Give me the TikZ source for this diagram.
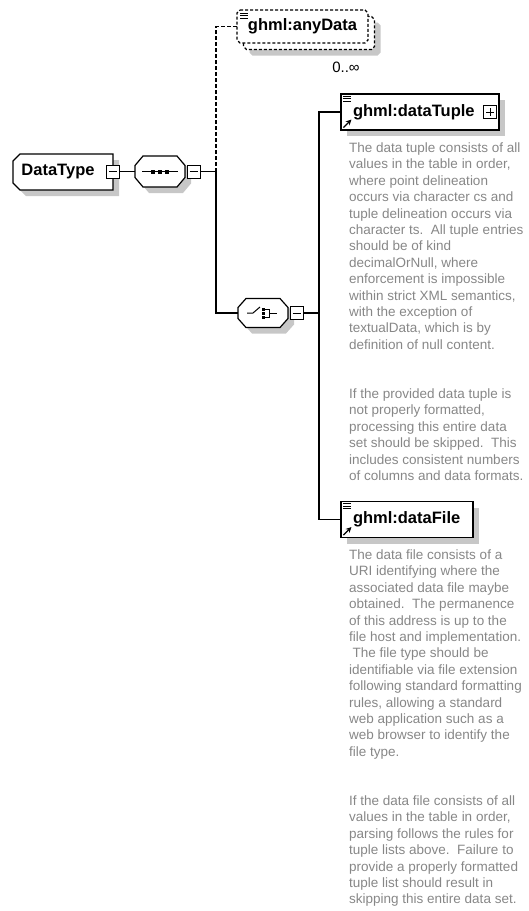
\documentclass[tikz,border=0pt]{standalone}
\usepackage{fontspec}
\setmainfont{Liberation Sans}
\usepackage{xcolor}
\usetikzlibrary{shadows,arrows.meta,backgrounds}
\definecolor{notegray}{rgb}{0.53,0.53,0.53}
\definecolor{shade}{rgb}{0.78,0.78,0.78}

\begin{document}
\begin{tikzpicture}[x=1pt,y=-1pt]
    \tikzstyle{shd}=[drop shadow={shadow xshift=6pt,shadow yshift=-6pt,fill=shade,opacity=1}]
    \tikzstyle{frame}=[rectangle,draw=none,inner sep=0pt,outer sep=0pt]
    \tikzstyle{outline}=[draw=black,fill=white,line width=1.2pt]
    \tikzstyle{label}=[font=\fontsize{16.5}{18}\selectfont\bfseries]
    \tikzstyle{elem}=[draw=black,fill=white,line width=1.2pt,minimum height=36pt,inner xsep=12pt,inner ysep=0pt,align=left,label,shd]
    \tikzstyle{mbox}=[draw=black,fill=white,line width=0.9pt,minimum size=13pt,inner sep=0pt,path picture={\draw[line width=0.9pt] ([xshift=2.5pt]path picture bounding box.west) -- ([xshift=-2.5pt]path picture bounding box.east);}]
    \tikzstyle{pbox}=[draw=black,fill=white,line width=0.9pt,minimum size=13pt,inner sep=0pt,path picture={\draw[line width=0.9pt] ([xshift=2.5pt]path picture bounding box.west) -- ([xshift=-2.5pt]path picture bounding box.east); \draw[line width=0.9pt] ([yshift=-2.5pt]path picture bounding box.north) -- ([yshift=2.5pt]path picture bounding box.south);}]
    \tikzstyle{fwd}=[draw=black,line width=1.1pt]
    \tikzstyle{note}=[text=notegray,anchor=north west,inner sep=0pt,align=left,font=\fontsize{13.5}{16.4}\selectfont]

    \def\bx{216}
    \def\cx{319}
    \def\octo#1#2#3#4{\draw[outline,#4] ([xshift=#2]#1.north west) -- ([xshift=-#2]#1.north east) -- ([yshift=-#3]#1.north east) -- ([yshift=#3]#1.south east) -- ([xshift=-#2]#1.south east) -- ([xshift=#2]#1.south west) -- ([yshift=#3]#1.south west) -- ([yshift=-#3]#1.north west) -- cycle;}
    \def\lines#1{\foreach \k in {3pt,5.5pt,8pt} \draw[line width=0.9pt] ([xshift=3pt,yshift=-\k]#1.north west) -- ++(7.5pt,0pt);}
    \def\refarr#1{\draw[line width=1.3pt,-{Stealth[length=5.5pt,width=5.5pt]}] ([xshift=3pt,yshift=3pt]#1.south west) -- ++(8pt,8pt);}

    \useasboundingbox (0,0) rectangle (528,911);

    \node[frame,label,minimum width=100pt,minimum height=36pt] (dt) at (63,172) {DataType\hspace*{10pt}};
    \begin{scope}[on background layer]
    \draw[outline,shd] ([xshift=7pt]dt.north west) -- (dt.north east) -- (dt.south east) -- ([xshift=7pt]dt.south west) -- ([yshift=7pt]dt.south west) -- ([yshift=-7pt]dt.north west) -- cycle;
    \end{scope}
    \node[mbox]  (dtm) at (113,171.5) {};

    \node[frame,minimum width=50pt,minimum height=31pt] (seq) at (160,171.5) {};
    \begin{scope}[on background layer]
    \octo{seq}{8pt}{9.5pt}{shd}
    \end{scope}
    \node[mbox]  (seqm) at (193.5,171.5) {};
    \draw[line width=1pt] ([xshift=-18pt]seq.center) -- ([xshift=18pt]seq.center);
    \foreach \k in {-9pt,-2pt,5pt} \fill ([xshift=\k,yshift=-2pt]seq.center) rectangle ++(4pt,4pt);

    \node[frame,minimum width=131pt,minimum height=33pt] (anyb) at (309,33) {};
    \node[frame,label,minimum width=131pt,minimum height=33pt] (any) at (302.5,26.5) {ghml:anyData};
    \begin{scope}[on background layer]
    \octo{anyb}{3pt}{3pt}{shd,dash pattern=on 3pt off 2pt}
    \octo{any}{3pt}{3pt}{dash pattern=on 3pt off 2pt}
    \end{scope}
    \node[font=\fontsize{15}{17}\selectfont] (cnt) at (346,67) {0..∞};
    \lines{any}

    \node[frame,minimum width=50pt,minimum height=29pt] (cho) at (263,313) {};
    \begin{scope}[on background layer]
    \octo{cho}{8pt}{9pt}{shd}
    \end{scope}
    \node[mbox]  (chom) at (296.5,313) {};
    \draw[line width=1pt] ([xshift=-16pt]cho.center) -- ([xshift=-10pt]cho.center) -- ([xshift=-3pt,yshift=6pt]cho.center);
    \foreach \k in {-5.5pt,-1.5pt,2.5pt} \fill ([xshift=-1.5pt,yshift=\k]cho.center) rectangle ++(3pt,3pt);
    \draw[line width=1pt] ([xshift=2pt,yshift=4pt]cho.center) -- ([xshift=6pt,yshift=4pt]cho.center) -- ([xshift=6pt,yshift=-4pt]cho.center) -- ([xshift=2pt,yshift=-4pt]cho.center);
    \draw[line width=1pt] ([xshift=6pt]cho.center) -- ([xshift=14pt]cho.center);

    \node[elem,text width=134pt] (tup)  at (420,112) {ghml:dataTuple};
    \node[pbox]                  (tupp) at (490,112) {};
    \lines{tup}
    \refarr{tup}

    \node[elem,text width=108pt] (fil) at (407,519.5) {ghml:dataFile};
    \lines{fil}
    \refarr{fil}

    \coordinate (b1) at (\bx,171.5);
    \coordinate (b2) at (\cx,313);

   \draw [fwd] (dtm) -- (seq);
   \draw [fwd] (seqm) -- (b1);
   \draw [fwd,dash pattern=on 3.5pt off 2.5pt] (b1) |- (any.west);
   \draw [fwd] (b1) |- (cho.west);
   \draw [fwd] (chom) -- (b2);
   \draw [fwd] (b2) |- (tup.west);
   \draw [fwd] (b2) |- (fil.west);

    \node[note] (tupdoc) at (349,142.5) {The data tuple consists of all\\
values in the table in order,\\
where point delineation\\
occurs via character cs and\\
tuple delineation occurs via\\
character ts.\ \ All tuple entries\\
should be of kind\\
decimalOrNull, where\\
enforcement is impossible\\
within strict XML semantics,\\
with the exception of\\
textualData, which is by\\
definition of null content.\\[32.8pt]
If the provided data tuple is\\
not properly formatted,\\
processing this entire data\\
set should be skipped.\ \ This\\
includes consistent numbers\\
of columns and data formats.};

    \node[note] (fildoc) at (349,549.5) {The data file consists of a\\
URI identifying where the\\
associated data file maybe\\
obtained.\ \ The permanence\\
of this address is up to the\\
file host and implementation.\\
\hspace*{3.5pt}The file type should be\\
identifiable via file extension\\
following standard formatting\\
rules, allowing a standard\\
web application such as a\\
web browser to identify the\\
file type.\\[32.8pt]
If the data file consists of all\\
values in the table in order,\\
parsing follows the rules for\\
tuple lists above.\ \ Failure to\\
provide a properly formatted\\
tuple list should result in\\
skipping this entire data set.};

\end{tikzpicture}
\end{document}
